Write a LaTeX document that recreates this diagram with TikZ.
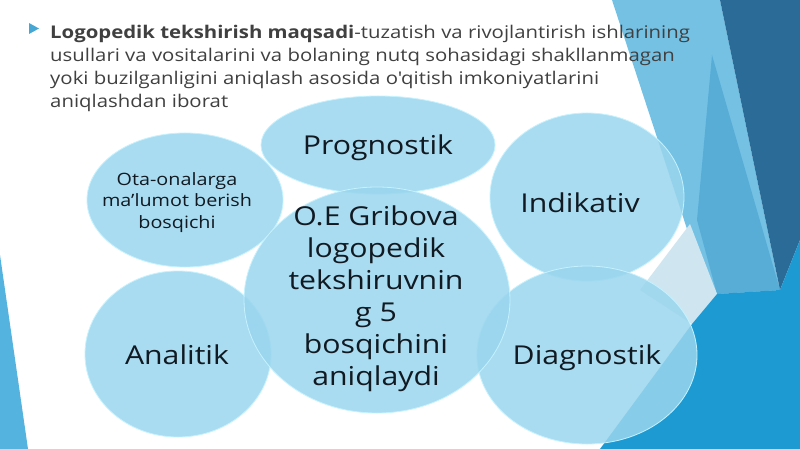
\documentclass[tikz,border=0pt]{standalone}
\usepackage{fontspec}
\setmainfont{Open Sans}[Ligatures=TeXOff, FakeStretch=1.163]
\usetikzlibrary{shapes.geometric}
\definecolor{bandlight}{HTML}{74C1E4}
\definecolor{bandmid}{HTML}{58ADD7}
\definecolor{banddark}{HTML}{2B6B98}
\definecolor{bandpale}{HTML}{CFE6F0}
\definecolor{bandbright}{HTML}{1E9AD2}
\definecolor{sliver}{HTML}{55B3E0}
\definecolor{bub}{HTML}{9AD6EE}
\definecolor{bubedge}{HTML}{C4F2FF}
\definecolor{titlegray}{HTML}{404040}
\definecolor{lbl}{HTML}{111A22}
\definecolor{bullet}{HTML}{47A7D4}
\tikzset{
  bubble/.style={ellipse, fill=bub, fill opacity=0.85, draw=bubedge, line width=0.8pt, inner sep=0pt},
  biglbl/.style={text=lbl, font=\fontsize{26}{32}\selectfont, inner sep=0pt, align=center},
  smalllbl/.style={text=lbl, font=\fontsize{17}{21.5}\selectfont, inner sep=0pt, align=center},
}
\begin{document}
\begin{tikzpicture}[x=1pt,y=-1pt]
\useasboundingbox (0,0) rectangle (800,449);
\fill[white] (0,0) rectangle (800,449);
% background facets
\fill[bandlight] (612,0) -- (720,0) -- (780,290) -- (717,294) -- (688,232) -- cycle;
\fill[bandmid] (712,55) -- (780,290) -- (717,294) -- (697,220) -- cycle;
\fill[banddark] (720,0) -- (800,0) -- (800,240) -- (780,290) -- cycle;
\fill[bandpale] (640,290) -- (690,224) -- (717,294) -- (692,324) -- cycle;
\fill[bandbright] (600,449) -- (692,324) -- (717,294) -- (780,290) -- (800,240) -- (800,449) -- cycle;
\fill[sliver] (0,255) -- (28,449) -- (0,449) -- cycle;
% bullet
\fill[bullet] (29,23) -- (39,28.5) -- (29,34) -- cycle;
% title
\node[anchor=north west, inner sep=0pt, align=left, text=titlegray,
      font=\fontsize{17.5}{23}\selectfont] (title) at (50,25)
  {\textbf{Logopedik tekshirish maqsadi}-tuzatish va rivojlantirish ishlarining\\
   usullari va vositalarini va bolaning nutq sohasidagi shakllanmagan\\
   yoki buzilganligini aniqlash asosida o'qitish imkoniyatlarini\\
   aniqlashdan iborat};
% bubbles
\node[bubble, minimum width=196pt, minimum height=134pt] (ota) at (185,200) {};
\node[bubble, minimum width=234pt, minimum height=98pt] (prog) at (378,145) {};
\node[bubble, minimum width=194pt, minimum height=168pt] (indi) at (587,197) {};
\node[bubble, minimum width=220pt, minimum height=178pt] (diag) at (587,355) {};
\node[bubble, minimum width=186pt, minimum height=166pt] (anal) at (178,354) {};
\node[bubble, minimum width=266pt, minimum height=226pt] (centre) at (377,300) {};
% labels
\node[biglbl, anchor=base] (progtxt) at (378,155) {Prognostik};
\node[biglbl, anchor=base] (inditxt) at (580,212) {Indikativ};
\node[biglbl, anchor=base] (diagtxt) at (587,364) {Diagnostik};
\node[biglbl, anchor=base] (analtxt) at (177,364) {Analitik};
\node[smalllbl] (otatxt) at (177,202.5) {Ota-onalarga\\ma’lumot berish\\bosqichi};
\node[biglbl] (centretxt) at (376,298.5) {O.E Gribova\\logopedik\\tekshiruvnin\\g 5\\bosqichini\\aniqlaydi};
\end{tikzpicture}
\end{document}
